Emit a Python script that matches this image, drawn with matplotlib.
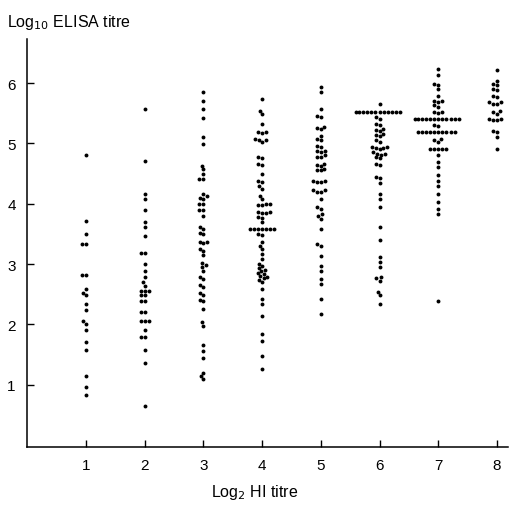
import numpy as np
import pandas as pd
import matplotlib

matplotlib.use('Agg')
import matplotlib.pyplot as plt
import seaborn as sns

# Log2 HI titre groups and Log10 ELISA titres
hi_titres = [1, 2, 3, 4, 5, 6, 7, 8]

elisa_1 = [4.80, 3.72, 3.50, 3.33, 3.33, 2.81, 2.81, 2.59, 2.52, 2.48, 2.33,
           2.23, 2.06, 2.01, 1.90, 1.71, 1.58, 1.14, 0.96, 0.83]
elisa_2 = [5.57, 4.70, 4.16, 4.08, 3.89, 3.69, 3.61, 3.47, 3.18, 3.18, 3.00,
           2.89, 2.79, 2.70, 2.64, 2.56, 2.56, 2.56, 2.48, 2.48, 2.39, 2.39,
           2.21, 2.21, 2.06, 2.06, 2.06, 1.90, 1.79, 1.79, 1.57, 1.36, 0.64]
elisa_3 = [5.85, 5.71, 5.57, 5.42, 5.10, 4.99, 4.63, 4.57, 4.50, 4.41, 4.41,
           4.16, 4.12, 4.10, 4.08, 4.00, 4.00, 3.89, 3.89, 3.79, 3.62, 3.58,
           3.52, 3.50, 3.36, 3.36, 3.34, 3.25, 3.22, 3.15, 3.02, 2.98, 2.95,
           2.89, 2.78, 2.75, 2.66, 2.62, 2.52, 2.48, 2.40, 2.38, 2.26, 2.04,
           1.98, 1.65, 1.55, 1.45, 1.20, 1.14, 1.09]
elisa_4 = [5.74, 5.54, 5.49, 5.32, 5.19, 5.19, 5.17, 5.07, 5.05, 5.05, 5.02,
           4.77, 4.75, 4.66, 4.64, 4.49, 4.38, 4.36, 4.29, 4.25, 4.13, 4.08,
           4.00, 4.00, 3.98, 3.98, 3.86, 3.86, 3.84, 3.84, 3.78, 3.76, 3.69,
           3.58, 3.58, 3.58, 3.58, 3.58, 3.58, 3.58, 3.50, 3.48, 3.36, 3.30,
           3.25, 3.17, 3.08, 3.00, 2.96, 2.93, 2.90, 2.88, 2.85, 2.83, 2.80,
           2.78, 2.76, 2.73, 2.70, 2.59, 2.42, 2.34, 2.14, 1.84, 1.73, 1.48,
           1.26]
elisa_5 = [5.93, 5.85, 5.57, 5.46, 5.44, 5.27, 5.25, 5.23, 5.12, 5.07, 5.05,
           4.96, 4.94, 4.88, 4.88, 4.86, 4.80, 4.78, 4.78, 4.66, 4.64, 4.62,
           4.58, 4.56, 4.55, 4.38, 4.38, 4.36, 4.36, 4.22, 4.22, 4.20, 4.20,
           4.08, 3.94, 3.92, 3.83, 3.80, 3.75, 3.58, 3.33, 3.30, 3.14, 2.97,
           2.89, 2.75, 2.67, 2.42, 2.17]
elisa_6 = [5.65, 5.52, 5.52, 5.52, 5.52, 5.52, 5.52, 5.52, 5.52, 5.52, 5.52,
           5.52, 5.52, 5.43, 5.41, 5.32, 5.30, 5.24, 5.22, 5.20, 5.16, 5.14,
           5.12, 5.05, 5.03, 4.94, 4.94, 4.92, 4.92, 4.90, 4.85, 4.83, 4.83,
           4.81, 4.77, 4.75, 4.66, 4.64, 4.44, 4.42, 4.34, 4.16, 4.08, 3.94,
           3.61, 3.39, 3.11, 3.03, 2.95, 2.78, 2.76, 2.72, 2.54, 2.48, 2.34]
elisa_7 = [6.24, 6.14, 5.99, 5.97, 5.90, 5.79, 5.71, 5.71, 5.69, 5.63, 5.61,
           5.52, 5.52, 5.50, 5.41, 5.41, 5.41, 5.41, 5.41, 5.41, 5.41, 5.41,
           5.41, 5.41, 5.41, 5.41, 5.31, 5.29, 5.19, 5.19, 5.19, 5.19, 5.19,
           5.19, 5.19, 5.19, 5.19, 5.19, 5.07, 5.05, 5.03, 4.91, 4.91, 4.91,
           4.91, 4.91, 4.80, 4.69, 4.61, 4.47, 4.38, 4.30, 4.16, 4.03, 3.91,
           3.83, 2.38]
elisa_8 = [6.21, 6.04, 5.99, 5.97, 5.90, 5.88, 5.79, 5.77, 5.68, 5.68, 5.66,
           5.66, 5.54, 5.52, 5.49, 5.41, 5.41, 5.39, 5.39, 5.21, 5.19, 5.10,
           4.90]

groups = [elisa_1, elisa_2, elisa_3, elisa_4, elisa_5, elisa_6, elisa_7, elisa_8]

rows = []
for hi, vals in zip(hi_titres, groups):
    for v in vals:
        rows.append((hi, v))
df = pd.DataFrame(rows, columns=['hi', 'elisa'])

plt.rcParams['font.family'] = ['Liberation Sans', 'DejaVu Sans']

fig = plt.figure(figsize=(5.18, 5.06), dpi=100)
ax = fig.add_axes([0.052, 0.115, 0.929, 0.806])

sns.swarmplot(data=df, x='hi', y='elisa', native_scale=True, color='black',
              size=2.8, marker='o', linewidth=0, ax=ax, warn_thresh=1.0)

ax.set_xlim(-0.005, 8.19)
ax.set_ylim(-0.03, 6.73)
ax.set_xticks(hi_titres)
ax.set_yticks([1, 2, 3, 4, 5, 6])
ax.tick_params(direction='in', length=5, width=1, labelsize=11, pad=8)
ax.spines['top'].set_visible(False)
ax.spines['right'].set_visible(False)
for s in ['left', 'bottom']:
    ax.spines[s].set_linewidth(1.1)
ax.set_xlabel('')
ax.set_ylabel('')

fig.text(0.014, 0.955, r'Log$_{10}$ ELISA titre', fontsize=11.5, ha='left', va='center')
fig.text(0.492, 0.026, r'Log$_2$ HI titre', fontsize=11.5, ha='center', va='center')

fig.savefig('out.png', dpi=100)
